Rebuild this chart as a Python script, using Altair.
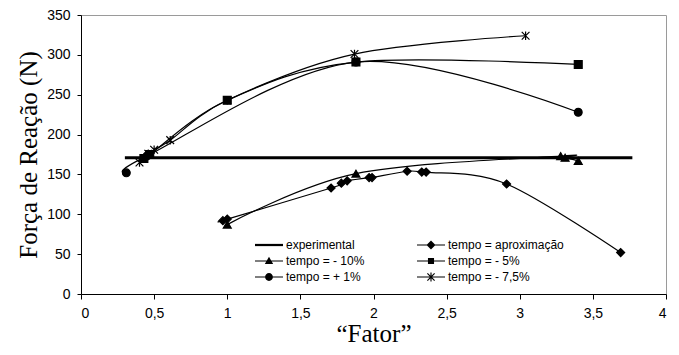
import altair as alt
import pandas as pd

series_names = ["experimental", "tempo = aproximação", "tempo = - 10%",
                "tempo = - 5%", "tempo = + 1%", "tempo = - 7,5%"]

exp_x = [0.30, 3.77]
exp_y = [171, 171]

aprox_x = [0.97, 1.00, 1.71, 1.78, 1.82, 1.97, 1.99, 2.23, 2.33, 2.36, 2.91, 3.69]
aprox_y = [92, 94, 133, 139, 142, 146, 146, 154, 153, 153, 138, 52]

m10_x = [1.00, 1.88, 3.28, 3.31, 3.40]
m10_y = [87, 151, 173, 171, 167]

m5_x = [0.43, 0.47, 1.00, 1.88, 3.40]
m5_y = [170, 175, 243, 291, 288]

p1_x = [0.31, 0.45, 1.88, 3.40]
p1_y = [152, 173, 291, 228]

m75_x = [0.40, 0.46, 0.50, 0.61, 1.00, 1.87, 3.04]
m75_y = [165, 176, 181, 193, 243, 301, 324]

x_ticks = [0, 0.5, 1, 1.5, 2, 2.5, 3, 3.5, 4]
y_ticks = [0, 50, 100, 150, 200, 250, 300, 350]

all_x = [exp_x, aprox_x, m10_x, m5_x, p1_x, m75_x]
all_y = [exp_y, aprox_y, m10_y, m5_y, p1_y, m75_y]

rows = []
for name, xs, ys in zip(series_names, all_x, all_y):
    for xv, yv in zip(xs, ys):
        rows.append({"serie": name, "rotulo": name, "x": xv, "y": yv})
df = pd.DataFrame(rows)

marker_names = series_names[1:]
marker_shapes = ["diamond", "triangle-up", "square", "circle",
                 "M-1,-1L1,1M-1,1L1,-1M0,-1.1L0,1.1"]
marker_sizes = [64, 60, 36, 56, 150]

# legend symbols: thin line + marker, all drawn as filled (clockwise) shapes
# (unit = 8 px for a 16 px legend symbol; the line reaches 14 px each side)
line_p = "M-1.75,-0.07L1.75,-0.07L1.75,0.07L-1.75,0.07Z"
legend_shape = {
    "experimental": "M-1.75,-0.14L1.75,-0.14L1.75,0.14L-1.75,0.14Z",
    "tempo = aproximação": line_p + "M0,-0.56L0.56,0L0,0.56L-0.56,0Z",
    "tempo = - 10%": line_p + "M0,-0.52L0.52,0.38L-0.52,0.38Z",
    "tempo = - 5%": line_p + "M-0.38,-0.38L0.38,-0.38L0.38,0.38L-0.38,0.38Z",
    "tempo = + 1%": line_p + "M0.49,0A0.49,0.49,0,1,1,-0.49,0A0.49,0.49,0,1,1,0.49,0Z",
    "tempo = - 7,5%": line_p + "M-0.07,-0.56L0.07,-0.56L0.07,0.56L-0.07,0.56Z"
                      "M-0.4,-0.5L0.5,0.4L0.4,0.5L-0.5,-0.4Z"
                      "M-0.5,0.4L0.4,-0.5L0.5,-0.4L-0.4,0.5Z",
}
# legend is filled column by column: column 1 then column 2
legend_order = ["experimental", "tempo = - 10%", "tempo = + 1%",
                "tempo = aproximação", "tempo = - 5%", "tempo = - 7,5%"]
legend_paths = [legend_shape[n] for n in legend_order]

x_enc = alt.X("x:Q", scale=alt.Scale(domain=[0, 4], nice=False, zero=False),
              axis=alt.Axis(values=x_ticks, title="“Fator”",
                            labelExpr="replace(toString(datum.value), '.', ',')",
                            tickSize=5, labelPadding=7, titlePadding=1))
y_enc = alt.Y("y:Q", scale=alt.Scale(domain=[0, 350], nice=False),
              axis=alt.Axis(values=y_ticks, title="Força de Reação (N)",
                            tickSize=4, labelPadding=7, titlePadding=5))

base = alt.Chart(df)

lines = base.transform_filter("datum.serie != 'experimental'").mark_line(
    color="black", strokeWidth=1.2, interpolate="cardinal"
).encode(x=x_enc, y=y_enc, detail="serie:N")

exp_line = base.transform_filter("datum.serie == 'experimental'").mark_line(
    color="black", strokeWidth=3
).encode(x=x_enc, y=y_enc)

points = base.transform_filter("datum.serie != 'experimental'").mark_point(
    filled=True, color="black", stroke="black", strokeWidth=1.2, opacity=1
).encode(
    x=x_enc, y=y_enc,
    shape=alt.Shape("serie:N", scale=alt.Scale(domain=marker_names, range=marker_shapes), legend=None),
    size=alt.Size("serie:O", scale=alt.Scale(domain=marker_names, range=marker_sizes), legend=None),
)

legend_layer = base.mark_point(filled=True, color="black", opacity=0).encode(
    x=x_enc, y=y_enc,
    shape=alt.Shape("rotulo:N", scale=alt.Scale(domain=legend_order, range=legend_paths),
                    legend=alt.Legend(title=None, orient="none", legendX=180, legendY=222,
                                      columns=2, symbolSize=256, labelFont="Liberation Sans",
                                      labelFontSize=12, labelColor="black", labelOffset=9,
                                      columnPadding=52, rowPadding=2, padding=0,
                                      symbolStrokeWidth=0, symbolFillColor="black",
                                      symbolOpacity=1)),
)

chart = alt.layer(lines, exp_line, points, legend_layer).resolve_scale(
    shape="independent", size="independent"
).properties(
    width=585, height=279,
    autosize=alt.AutoSizeParams(type="none"),
    padding={"left": 73, "top": 7, "right": 5, "bottom": 53},
).configure_view(
    stroke="#9a9a9a", strokeWidth=1
).configure_axis(
    grid=False, domainColor="black", tickColor="black", labelColor="black",
    titleColor="black", labelFont="Liberation Sans", labelFontSize=14,
    titleFont="Liberation Serif", titleFontSize=25, titleFontWeight="normal",
    domainWidth=1, tickWidth=1
)

chart.save("out.html", embed_options={"renderer": "svg", "actions": False})
